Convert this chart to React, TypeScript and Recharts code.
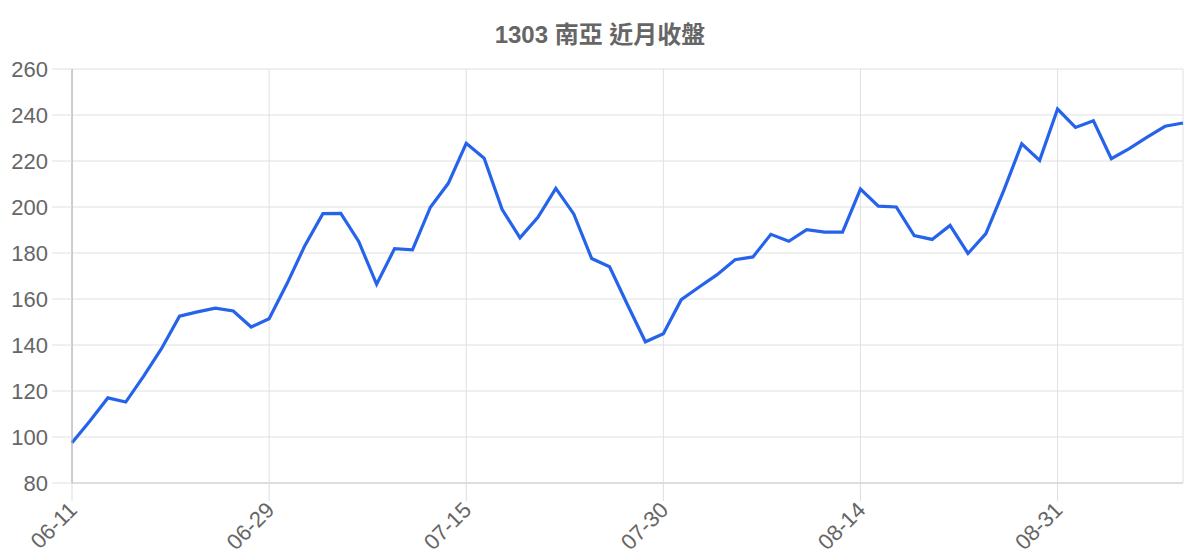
import { LineChart, Line, XAxis, YAxis, CartesianGrid } from "recharts";

const dates = [
  "06-11", "06-12", "06-13", "06-14", "06-17", "06-18", "06-19", "06-20", "06-21", "06-24", "06-26", "06-29",
  "07-01", "07-02", "07-03", "07-04", "07-05", "07-08", "07-09", "07-10", "07-11", "07-12", "07-15",
  "07-16", "07-17", "07-18", "07-19", "07-22", "07-23", "07-24", "07-25", "07-26", "07-29", "07-30",
  "07-31", "08-01", "08-02", "08-05", "08-06", "08-07", "08-08", "08-09", "08-12", "08-13", "08-14",
  "08-15", "08-16", "08-19", "08-20", "08-21", "08-22", "08-23", "08-26", "08-27", "08-28", "08-31",
  "09-02", "09-03", "09-04", "09-05", "09-06", "09-09", "09-10",
];

const closes = [
  97.5, 107, 117, 115.2, 126.5, 138.5, 152.5, 154.4, 156, 154.8, 147.8, 151.4,
  166.7, 183.3, 197.1, 197.2, 185, 166.4, 181.9, 181.4, 199.9, 210.3, 227.7,
  221.2, 199, 186.6, 195.5, 208.1, 197, 177.6, 174, 157.5, 141.4, 144.9,
  159.7, 165.2, 170.6, 177.1, 178.3, 188.1, 185.1, 190.1, 189.1, 189.1, 207.8,
  200.4, 200, 187.6, 185.9, 192, 179.8, 188.4, 207.2, 227.5, 220.3, 242.6,
  234.6, 237.5, 221, 225.4, 230.4, 235.1, 236.5,
];

const xTicks = ["06-11", "06-29", "07-15", "07-30", "08-14", "08-31"];
const yTicks = [80, 100, 120, 140, 160, 180, 200, 220, 240, 260];

const data = dates.map((d, i) => ({ date: d, close: closes[i] }));

const FONT = '"Liberation Sans", Arial, "Noto Sans CJK TC", sans-serif';

const XTick = ({ x, y, payload }: any) => (
  <g transform={`translate(${x + 1},${y + 3})`}>
    <text
      transform="rotate(-45)"
      textAnchor="end"
      dy="0.35em"
      fill="#666"
      fontSize={22}
      fontFamily={FONT}
    >
      {payload.value}
    </text>
  </g>
);

export default function App() {
  return (
    <div style={{ position: "absolute", left: 0, top: 0, width: 1200, height: 560, background: "#fff" }}>
      <LineChart
        width={1200}
        height={560}
        data={data}
        margin={{ top: 69, right: 17, left: 0, bottom: 0 }}
      >
        <CartesianGrid stroke="#e0e0e0" />
        <XAxis
          dataKey="date"
          ticks={xTicks}
          interval={0}
          height={77}
          tickSize={18}
          tickMargin={2}
          tickLine={{ stroke: "#ddd" }}
          axisLine={{ stroke: "#ccc" }}
          tick={<XTick />}
        />
        <YAxis
          domain={[80, 260]}
          ticks={yTicks}
          width={72}
          tickSize={20}
          tickMargin={4}
          tickLine={{ stroke: "#e0e0e0" }}
          axisLine={{ stroke: "#aaa" }}
          tick={{ fill: "#666", fontSize: 22, fontFamily: FONT }}
        />
        <Line
          type="linear"
          dataKey="close"
          stroke="#2563eb"
          strokeWidth={3.2}
          dot={false}
          isAnimationActive={false}
        />
      </LineChart>
      <svg width={1200} height={60} style={{ position: "absolute", left: 0, top: 0, pointerEvents: "none" }}>
        <text x={600} y={43} textAnchor="middle" fill="#666" fontSize={24} fontWeight="bold" fontFamily={FONT}>
          1303 南亞 近月收盤
        </text>
      </svg>
    </div>
  );
}
